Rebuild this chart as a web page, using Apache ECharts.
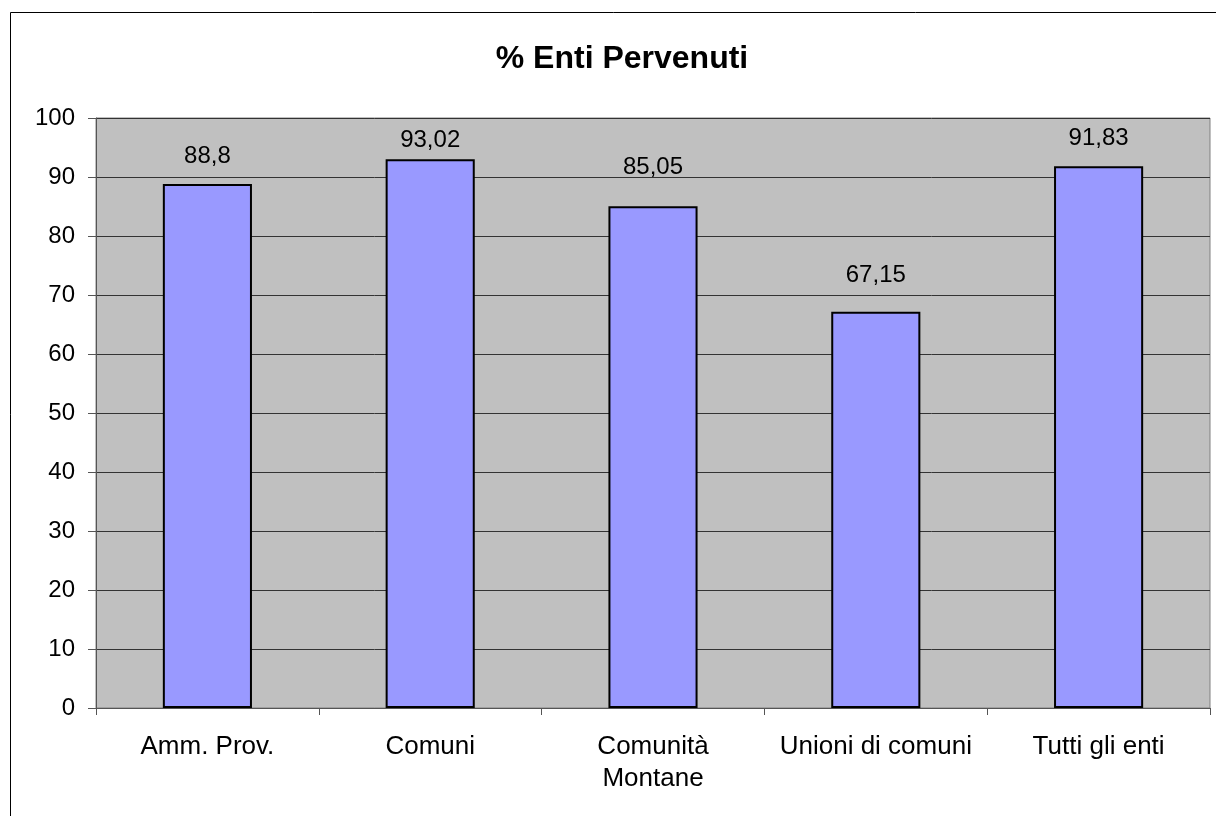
<!DOCTYPE html>
<html>
<head>
<meta charset="utf-8">
<script src="https://cdn.jsdelivr.net/npm/echarts@6/dist/echarts.min.js"></script>
<style>
html,body{margin:0;padding:0;background:#fff;}
#c{width:1216px;height:816px;}
</style>
</head>
<body>
<div id="c"></div>
<script>
const categories = ['Amm. Prov.', 'Comuni', 'Comunità\nMontane', 'Unioni di comuni', 'Tutti gli enti'];
const values = [88.8, 93.02, 85.05, 67.15, 91.83];
const titleText = '% Enti Pervenuti';

const chart = echarts.init(document.getElementById('c'), null, {renderer: 'canvas'});
const font = 'Liberation Sans, Arial, sans-serif';
// per-label offsets reproducing the original label placement
const labelGap = [16, 7, 27, 24, 16];
chart.setOption({
  animation: false,
  backgroundColor: '#ffffff',
  title: {
    text: titleText,
    left: 617, top: 38, textAlign: 'center',
    textStyle: {fontFamily: font, fontSize: 32, fontWeight: 'bold', color: '#000'}
  },
  graphic: [{
    type: 'rect', z: 100, silent: true,
    shape: {x: 10.5, y: 12.5, width: 1250, height: 850},
    style: {fill: 'none', stroke: '#000', lineWidth: 1}
  }],
  grid: {
    left: 96, right: 6, top: 118, bottom: 108,
    show: true, backgroundColor: '#c0c0c0', borderColor: '#808080', borderWidth: 1
  },
  xAxis: {
    type: 'category', data: categories, boundaryGap: true,
    axisLine: {show: true, lineStyle: {color: '#555', width: 1}},
    axisTick: {show: true, alignWithLabel: false, length: 7, lineStyle: {color: '#555'}},
    axisLabel: {fontFamily: font, fontSize: 26, color: '#000', margin: 23, lineHeight: 32, interval: 0},
    splitLine: {show: false}
  },
  yAxis: {
    type: 'value', min: 0, max: 100, interval: 10,
    axisLine: {show: true, lineStyle: {color: '#555', width: 1}},
    axisTick: {show: true, inside: false, length: 8, lineStyle: {color: '#555'}},
    axisLabel: {fontFamily: font, fontSize: 24, color: '#000', margin: 21},
    splitLine: {show: true, lineStyle: {color: '#333', width: 1}}
  },
  series: [{
    type: 'bar',
    data: values.map((v, i) => ({value: v, label: {distance: labelGap[i]}})),
    barWidth: '40%',
    itemStyle: {color: '#9999ff', borderColor: '#000', borderWidth: 2},
    label: {
      show: true, position: 'top',
      fontFamily: font, fontSize: 24, color: '#000',
      formatter: p => String(p.value).replace('.', ',')
    }
  }]
});
</script>
</body>
</html>
